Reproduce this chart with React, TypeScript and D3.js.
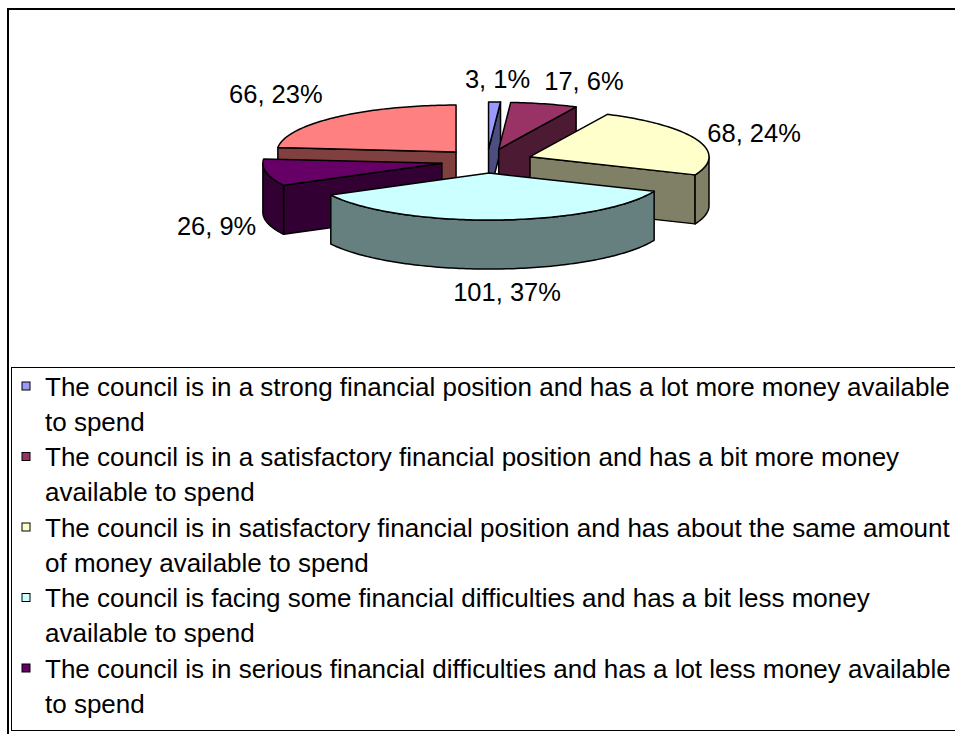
import React from "react";
import * as d3 from "d3";

const values = [3, 17, 68, 101, 26, 66];
const percentLabels = ["1%", "6%", "24%", "37%", "9%", "23%"];
const topColors = ["#9999FF", "#993366", "#FFFFCC", "#CCFFFF", "#660066", "#FF8080"];
const legendLabels = [
  "The council is in a strong financial position and has a lot more money available to spend",
  "The council is in a satisfactory financial position and has a bit more money available to spend",
  "The council is in satisfactory financial position and has about the same amount of money available to spend",
  "The council is facing some financial difficulties and has a bit less money available to spend",
  "The council is in serious financial difficulties and has a lot less money available to spend",
];

const W = 955;
const H = 734;
const FONT = "'Liberation Sans', Arial, sans-serif";
const CX = 487;
const CY = 161;
const RX = 179;
const RY = 47;
const DEPTH = 49;
const EXPLODE = 0.257;
const LABEL_FS = 25.5;
const LEGEND_FS = 26;
const LEGEND_X = 45;
const LEGEND_MAXW = 918;

function wrap(text: string, fs: number, maxW: number): string[] {
  const canvas = document.createElement("canvas");
  const ctx = canvas.getContext("2d")!;
  ctx.font = `${fs}px 'Liberation Sans', Arial, sans-serif`;
  const words = text.split(" ");
  const lines: string[] = [];
  let cur = "";
  for (const w of words) {
    const t = cur ? cur + " " + w : w;
    if (ctx.measureText(t).width > maxW && cur) {
      lines.push(cur);
      cur = w;
    } else cur = t;
  }
  if (cur) lines.push(cur);
  return lines;
}

export default function App() {
  const pie = d3.pie<number>().sort(null).value((d) => d).startAngle(0).endAngle(2 * Math.PI);
  const arcs = pie(values);
  const color = d3.scaleOrdinal<number, string>().domain(d3.range(values.length)).range(topColors);
  const side = (i: number) => {
    const c = d3.rgb(color(i));
    return d3.rgb(c.r * 0.5, c.g * 0.5, c.b * 0.5).formatHex();
  };

  const slices = arcs.map((a, i) => {
    const mid = (a.startAngle + a.endAngle) / 2;
    const cx = CX + EXPLODE * RX * Math.sin(mid);
    const cy = CY - EXPLODE * RY * Math.cos(mid);
    return { a, i, mid, cx, cy };
  });

  const pt = (cx: number, cy: number, t: number, dz = 0): [number, number] => [
    cx + RX * Math.sin(t),
    cy - RY * Math.cos(t) + dz,
  ];

  const arcPts = (cx: number, cy: number, t0: number, t1: number, dz = 0) => {
    const n = Math.max(2, Math.ceil(Math.abs(t1 - t0) / 0.02));
    return d3.range(n + 1).map((k) => pt(cx, cy, t0 + ((t1 - t0) * k) / n, dz));
  };

  const line = d3.line<[number, number]>();

  const order = [...slices].sort((p, q) => p.cy - q.cy);

  const shapes: React.ReactNode[] = [];
  order.forEach((s) => {
    const { a, i, cx, cy } = s;
    const t0 = a.startAngle;
    const t1 = a.endAngle;
    const sc = side(i);
    if (Math.sin(t0) < -1e-6) {
      const p = pt(cx, cy, t0);
      const poly: [number, number][] = [[cx, cy], p, [p[0], p[1] + DEPTH], [cx, cy + DEPTH]];
      shapes.push(<path key={`s0-${i}`} d={line(poly)! + "Z"} fill={sc} stroke="#000" strokeWidth={1.5} strokeLinejoin="round" />);
    }
    if (Math.sin(t1) > 1e-6) {
      const p = pt(cx, cy, t1);
      const poly: [number, number][] = [[cx, cy], p, [p[0], p[1] + DEPTH], [cx, cy + DEPTH]];
      shapes.push(<path key={`s1-${i}`} d={line(poly)! + "Z"} fill={sc} stroke="#000" strokeWidth={1.5} strokeLinejoin="round" />);
    }
    const w0 = Math.max(t0, Math.PI / 2);
    const w1 = Math.min(t1, (3 * Math.PI) / 2);
    if (w1 > w0) {
      const top = arcPts(cx, cy, w0, w1);
      const bot = arcPts(cx, cy, w0, w1, DEPTH).reverse();
      shapes.push(<path key={`w-${i}`} d={line([...top, ...bot])! + "Z"} fill={sc} stroke="#000" strokeWidth={1.5} strokeLinejoin="round" />);
    }
    const topPts: [number, number][] = [[cx, cy], ...arcPts(cx, cy, t0, t1)];
    shapes.push(<path key={`t-${i}`} d={line(topPts)! + "Z"} fill={color(i)} stroke="#000" strokeWidth={1.5} strokeLinejoin="round" />);
  });

  const labels = slices.map((s) => {
    const { a, i, mid, cx, cy } = s;
    const sn = Math.sin(mid);
    const cs = Math.cos(mid);
    let [px, py] = pt(cx, cy, mid);
    if (cs < 0) py += DEPTH;
    const vertical = Math.abs(cs) > 0.5;
    let anchor: "start" | "middle" | "end" = "middle";
    let x = px + (cs < 0 ? 10 : 3);
    if (sn > 0.2) { anchor = "start"; x = px + (vertical ? 0 : 10); }
    else if (sn < -0.2) { anchor = "end"; x = px - (vertical ? 13 : 10); }
    let y: number;
    if (cs > 0.5) y = py - 14;
    else if (cs < -0.5) y = py + 14 + LABEL_FS * 0.72;
    else y = py - 20 * cs + LABEL_FS * 0.36;
    return (
      <text key={`l-${i}`} x={x} y={y} textAnchor={anchor} fontSize={LABEL_FS} fontFamily={FONT} fill="#000">
        {`${a.data}, ${percentLabels[i]}`}
      </text>
    );
  });

  const legendTop = 367;
  const itemH = 70.5;
  const lineH = 35;
  const legend = legendLabels.map((lab, i) => {
    const lines = wrap(lab, LEGEND_FS, LEGEND_MAXW);
    const y0 = legendTop + 19 + i * itemH;
    return (
      <g key={`lg-${i}`}>
        <rect x={22} y={y0 - 4} width={8} height={8} fill={color(i)} stroke="#000" strokeWidth={1} />
        {lines.map((ln, k) => (
          <text key={k} x={LEGEND_X} y={y0 + k * lineH + LEGEND_FS * 0.38} fontSize={LEGEND_FS} fontFamily={FONT} fill="#000">
            {ln}
          </text>
        ))}
      </g>
    );
  });

  return (
    <svg width={W} height={H} style={{ position: "absolute", left: 0, top: 0, background: "#fff" }}>
      <rect x={0} y={0} width={W} height={H} fill="#fff" />
      <rect x={8} y={9} width={1100} height={900} fill="#fff" stroke="#000" strokeWidth={2} />
      {shapes}
      {labels}
      <rect x={11.5} y={367.5} width={1100} height={363} fill="#fff" stroke="#000" strokeWidth={1} />
      {legend}
    </svg>
  );
}
